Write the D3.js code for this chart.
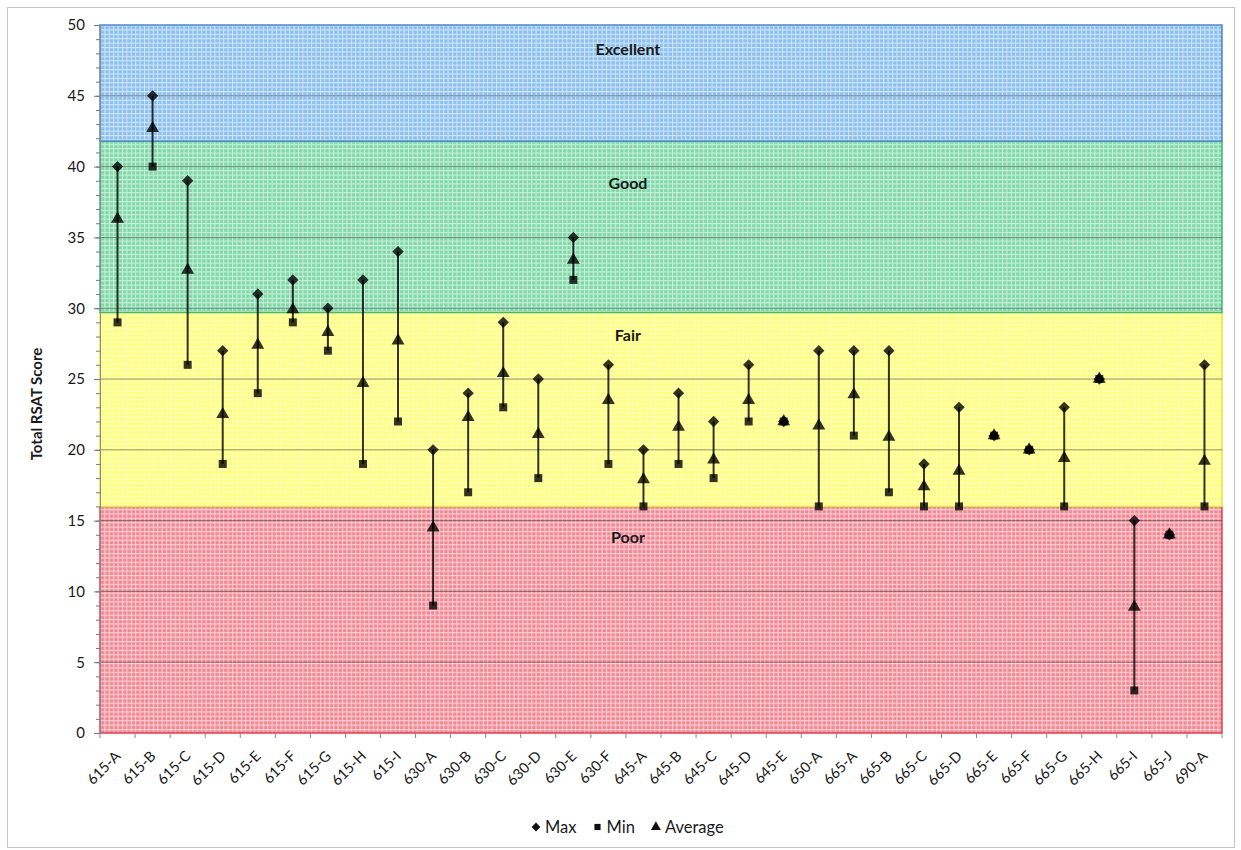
<!DOCTYPE html>
<html>
<head>
<meta charset="utf-8">
<script src="https://cdn.jsdelivr.net/npm/d3@7"></script>
<style>
  body { margin: 0; background: #fff; }
  text { font-family: Lato, 'Open Sans', sans-serif; fill: #1a1a1a; }
</style>
</head>
<body>
<div id="chart"></div>
<script>
const categories = ['615-A', '615-B', '615-C', '615-D', '615-E', '615-F', '615-G', '615-H', '615-I',
  '630-A', '630-B', '630-C', '630-D', '630-E', '630-F',
  '645-A', '645-B', '645-C', '645-D', '645-E', '650-A',
  '665-A', '665-B', '665-C', '665-D', '665-E', '665-F', '665-G', '665-H', '665-I', '665-J', '690-A']

const maxValues = [40, 45, 39, 27, 31, 32, 30, 32, 34,
  20, 24, 29, 25, 35, 26,
  20, 24, 22, 26, 22, 27,
  27, 27, 19, 23, 21, 20, 23, 25, 15, 14, 26]

const minValues = [29, 40, 26, 19, 24, 29, 27, 19, 22,
  9, 17, 23, 18, 32, 19,
  16, 19, 18, 22, 22, 16,
  21, 17, 16, 16, 21, 20, 16, 25, 3, 14, 16]

const avgValues = [36.3, 42.7, 32.7, 22.5, 27.4, 29.9, 28.3, 24.7, 27.7,
  14.5, 22.3, 25.4, 21.1, 33.4, 23.5,
  17.9, 21.6, 19.3, 23.5, 22, 21.7,
  23.9, 20.9, 17.4, 18.5, 21, 20, 19.4, 25, 8.9, 14, 19.2]

const bandNames = ['Poor', 'Fair', 'Good', 'Excellent']
const bandLow = [0, 16, 29.7, 41.8]
const bandHigh = [16, 29.7, 41.8, 50]
const bandLabelAt = [13.8, 28.1, 38.8, 48.3]
const bandColors = ['#f28a95', '#ffff78', '#80d9a8', '#8cc0ee']
const bandEdges = ['#e0404f', '#e6e640', '#3fb878', '#4a86c8']

const yTicks = [0, 5, 10, 15, 20, 25, 30, 35, 40, 45, 50]
const legendNames = ['Max', 'Min', 'Average']

const margin = { top: 25, left: 100, right: 19, bottom: 117 }
const width = 1241 - margin.left - margin.right
const height = 850 - margin.top - margin.bottom

const root = d3.select('#chart')
  .append('svg')
  .attr('width', 1241)
  .attr('height', 850)

root.append('rect')
  .attr('x', 7.5).attr('y', 7.5)
  .attr('width', 1227).attr('height', 840)
  .attr('fill', '#fff')
  .attr('stroke', '#c4c4c4')

const defs = root.append('defs')
bandColors.forEach((c, i) => {
  const p = defs.append('pattern')
    .attr('id', 'band-' + i)
    .attr('width', 4.4).attr('height', 4.4)
    .attr('patternUnits', 'userSpaceOnUse')
  p.append('rect').attr('width', 4.4).attr('height', 4.4).attr('fill', c)
  p.append('path')
    .attr('d', 'M0 0.5H4.4M0.5 0V4.4')
    .attr('stroke', '#fff')
    .attr('stroke-opacity', 0.6)
    .attr('stroke-width', 1)
})

const svg = root.append('g')
  .attr('transform', 'translate(' + margin.left + ',' + margin.top + ')')

const x = d3.scaleBand().domain(categories).range([0, width])
const y = d3.scaleLinear().domain([0, 50]).range([height, 0])

// bands
svg.selectAll('.band')
  .data(bandNames)
  .enter()
  .append('rect')
  .attr('class', 'band')
  .attr('x', 0)
  .attr('width', width)
  .attr('y', (d, i) => y(bandHigh[i]))
  .attr('height', (d, i) => y(bandLow[i]) - y(bandHigh[i]))
  .attr('fill', (d, i) => 'url(#band-' + i + ')')
  .attr('stroke', (d, i) => bandEdges[i])
  .attr('stroke-width', 1.5)

// gridlines
svg.selectAll('.grid')
  .data(yTicks.slice(1, -1))
  .enter()
  .append('line')
  .attr('class', 'grid')
  .attr('x1', 0).attr('x2', width)
  .attr('y1', d => y(d)).attr('y2', d => y(d))
  .attr('stroke', '#3a3a3a')
  .attr('stroke-opacity', 0.55)

// band labels
svg.selectAll('.band-label')
  .data(bandNames)
  .enter()
  .append('text')
  .attr('class', 'band-label')
  .attr('x', x(categories[15]) + 2)
  .attr('y', (d, i) => y(bandLabelAt[i]))
  .attr('text-anchor', 'middle')
  .attr('dy', '0.35em')
  .attr('font-size', 16)
  .attr('font-weight', 700)
  .text(d => d)

// y axis
svg.append('g')
  .call(d3.axisLeft(y).tickValues(d3.range(0, 51)).tickSize(4).tickFormat(''))
  .call(g => g.select('.domain').remove())
  .call(g => g.selectAll('line').attr('stroke', '#777'))

svg.append('g')
  .call(d3.axisLeft(y).tickValues(yTicks).tickSize(6).tickPadding(9))
  .call(g => g.select('.domain').attr('stroke', '#8a8a8a'))
  .call(g => g.selectAll('line').attr('stroke', '#777'))
  .call(g => g.selectAll('text').attr('font-size', 15).attr('font-family', 'Lato, sans-serif').attr('fill', '#1a1a1a'))

svg.append('text')
  .attr('transform', 'translate(-58,' + (height / 2 + 25) + ') rotate(-90)')
  .attr('text-anchor', 'middle')
  .attr('font-size', 15)
  .attr('font-weight', 700)
  .text('Total RSAT Score')

// x axis
const xAxis = svg.append('g')
  .attr('transform', 'translate(0,' + height + ')')

xAxis.selectAll('.xtick')
  .data(categories.concat(['end']))
  .enter()
  .append('line')
  .attr('x1', (d, i) => i * x.bandwidth())
  .attr('x2', (d, i) => i * x.bandwidth())
  .attr('y1', 0).attr('y2', 5)
  .attr('stroke', '#888')

xAxis.selectAll('.xlabel')
  .data(categories)
  .enter()
  .append('text')
  .attr('transform', d => 'translate(' + (x(d) + x.bandwidth() / 2 + 4) + ',24) rotate(-45)')
  .attr('text-anchor', 'end')
  .attr('font-size', 14.5)
  .text(d => d)

// range lines
const points = categories.map((c, i) => ({ cat: c, max: maxValues[i], min: minValues[i], avg: avgValues[i] }))
const cx = d => x(d.cat) + x.bandwidth() / 2

svg.selectAll('.range')
  .data(points)
  .enter()
  .append('line')
  .attr('class', 'range')
  .attr('x1', cx).attr('x2', cx)
  .attr('y1', d => y(d.max)).attr('y2', d => y(d.min))
  .attr('stroke', '#000')
  .attr('stroke-opacity', 0.8)
  .attr('stroke-width', 2)

const symbols = [
  { key: 'max', type: d3.symbolDiamond2, size: 82 },
  { key: 'min', type: d3.symbolSquare, size: 64 },
  { key: 'avg', type: d3.symbolTriangle, size: 72 }
]

symbols.forEach(s => {
  svg.selectAll('.mark-' + s.key)
    .data(points)
    .enter()
    .append('path')
    .attr('class', 'mark-' + s.key)
    .attr('transform', d => 'translate(' + cx(d) + ',' + y(d[s.key]) + ')')
    .attr('d', d3.symbol().type(s.type).size(s.size))
    .attr('fill', '#000')
    .attr('fill-opacity', 0.8)
})

// legend
const legend = root.append('g').attr('transform', 'translate(531,827)')
let lx = 0
legendNames.forEach((name, i) => {
  const s = symbols[i]
  legend.append('path')
    .attr('transform', 'translate(' + (lx + 5) + ',0)')
    .attr('d', d3.symbol().type(s.type).size(s.size * 0.6))
    .attr('fill', '#111')
  const t = legend.append('text')
    .attr('x', lx + 14)
    .attr('dy', '0.35em')
    .attr('font-size', 16.5)
    .text(name)
  lx += 14 + t.node().getComputedTextLength() + 16
})
</script>
</body>
</html>
